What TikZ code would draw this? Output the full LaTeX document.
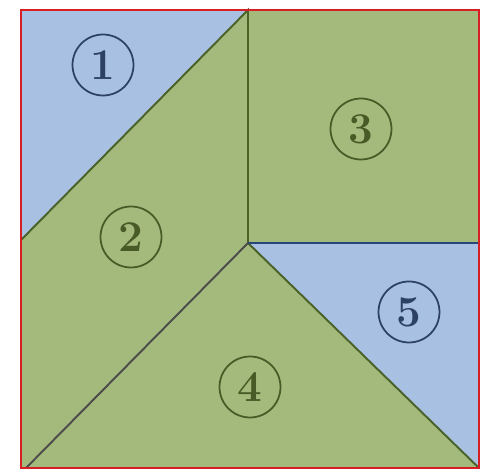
\documentclass[tikz,border=0pt]{standalone}
\usepackage{tikz}
\definecolor{pieceblue}{RGB}{168,192,226}
\definecolor{piecegreen}{RGB}{163,186,124}
\definecolor{edgegreen}{RGB}{74,98,40}
\definecolor{edgeblue}{RGB}{40,70,120}
\definecolor{framered}{RGB}{214,30,36}
\definecolor{numblue}{RGB}{45,65,100}
\definecolor{numgreen}{RGB}{72,90,38}

\begin{document}
\begin{tikzpicture}
[x=0.02cm,y=-0.02cm,
bluepiece/.style={fill=pieceblue,draw=none},
greenpiece/.style={fill=piecegreen,draw=none},
cutline/.style={draw=edgegreen,line width=1.1pt},
numlabel/.style={circle,draw,line width=1pt,inner sep=0pt,minimum size=1.22cm,
font=\fontsize{25}{25}\selectfont\bfseries}
]
\useasboundingbox (0,0) rectangle (485,473);
\fill[white] (0,0) rectangle (485,473);
% corners and cut points
\coordinate (TL) at (21,10);
\coordinate (TR) at (479,10);
\coordinate (BR) at (479,468);
\coordinate (BL) at (21,468);
\coordinate (TM) at (248,10);
\coordinate (LM) at (21,240);
\coordinate (C) at (248,243);
\coordinate (RM) at (479,243);
\coordinate (BLi) at (26,468);
% pieces
\path [bluepiece] (TL) -- (TM) -- (LM) -- cycle;
\path [greenpiece] (TM) -- (C) -- (BLi) -- (BL) -- (LM) -- cycle;
\path [greenpiece] (TM) -- (TR) -- (RM) -- (C) -- cycle;
\path [greenpiece] (C) -- (BR) -- (BLi) -- cycle;
\path [bluepiece] (C) -- (RM) -- (BR) -- cycle;
% cuts
\draw [cutline] (LM) -- (TM) -- (C) -- (RM);
\draw [cutline] (C) -- (BR);
\draw [cutline,draw=black!70] (C) -- (BLi);
\draw [draw=edgeblue,line width=1.1pt] (C) -- (RM);
\draw [draw=framered,line width=1.4pt] (TL) rectangle (BR);
% numbers
\node [numlabel,draw=numblue,text=numblue] (n1) at (103,65) {1};
\node [numlabel,draw=numgreen,text=numgreen] (n2) at (131,237) {2};
\node [numlabel,draw=numgreen,text=numgreen] (n3) at (361,129) {3};
\node [numlabel,draw=numgreen,text=numgreen] (n4) at (250,387) {4};
\node [numlabel,draw=numblue,text=numblue] (n5) at (409,312) {5};
\end{tikzpicture}
\end{document}
